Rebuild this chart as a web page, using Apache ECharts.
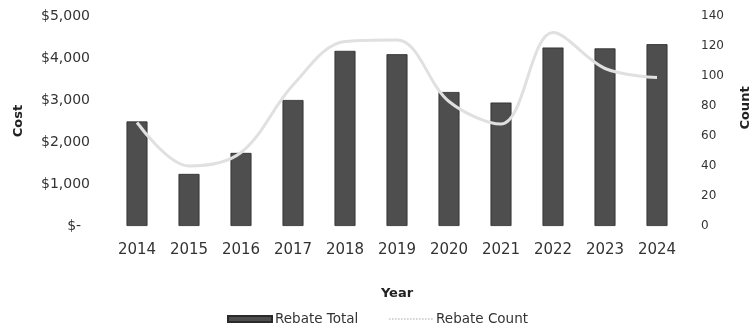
<!DOCTYPE html>
<html>
<head>
<meta charset="utf-8">
<script src="https://cdn.jsdelivr.net/npm/echarts@6/dist/echarts.min.js"></script>
<style>
  html, body { margin: 0; padding: 0; background: #fff; }
  #chart { width: 755px; height: 328px; }
</style>
</head>
<body>
<div id="chart"></div>
<script>
// Yearly rebate totals (USD) and number of rebates issued
const years = ['2014', '2015', '2016', '2017', '2018', '2019', '2020', '2021', '2022', '2023', '2024'];
const rebateTotal = [2490, 1240, 1740, 3000, 4170, 4090, 3190, 2940, 4250, 4230, 4330];
const rebateCount = [69, 40, 49, 94, 123, 124, 83, 68, 129, 105, 99];

const FONT = 'DejaVu Sans';

function costLabel(v) {
  if (v === 0) return '$-\u00a0\u00a0';
  return '$' + v.toLocaleString('en-US');
}

const chart = echarts.init(document.getElementById('chart'), null, { renderer: 'canvas' });

chart.setOption({
  animation: false,
  backgroundColor: '#ffffff',
  textStyle: { fontFamily: FONT },
  grid: { left: 111, right: 72, top: 16, bottom: 102, containLabel: false, outerBoundsMode: 'none' },
  legend: {
    top: 307,
    left: 'center',
    itemGap: 30,
    itemWidth: 44,
    itemHeight: 6,
    textStyle: { fontFamily: FONT, fontSize: 13.5, color: '#333', padding: [0, 0, 0, -2] },
    data: [
      { name: 'Rebate Total', icon: 'rect' },
      { name: 'Rebate Count', itemStyle: { opacity: 0 }, lineStyle: { color: '#c4c4c4', width: 1.5, type: 'dotted' } }
    ]
  },
  xAxis: {
    type: 'category',
    data: years,
    name: 'Year',
    nameLocation: 'middle',
    nameGap: 61,
    nameTextStyle: { fontFamily: FONT, fontSize: 13, fontWeight: 'bold', color: '#222' },
    axisLine: { show: false },
    axisTick: { show: false },
    axisLabel: { fontFamily: FONT, fontSize: 15, color: '#333', margin: 17 }
  },
  yAxis: [
    {
      type: 'value',
      min: 0,
      max: 5000,
      interval: 1000,
      name: 'Cost',
      nameLocation: 'middle',
      nameGap: 86,
      nameTextStyle: { fontFamily: FONT, fontSize: 13, fontWeight: 'bold', color: '#222' },
      axisLine: { show: false },
      axisTick: { show: false },
      splitLine: { show: false },
      axisLabel: { fontFamily: FONT, fontSize: 14, color: '#333', margin: 21, formatter: costLabel }
    },
    {
      type: 'value',
      min: 0,
      max: 140,
      interval: 20,
      name: 'Count',
      nameLocation: 'middle',
      nameGap: 56,
      nameTextStyle: { fontFamily: FONT, fontSize: 13, fontWeight: 'bold', color: '#222', padding: [0, 0, 0, 26] },
      axisLine: { show: false },
      axisTick: { show: false },
      splitLine: { show: false },
      axisLabel: { fontFamily: FONT, fontSize: 12, color: '#333', margin: 18 }
    }
  ],
  series: [
    {
      name: 'Rebate Total',
      type: 'bar',
      yAxisIndex: 0,
      data: rebateTotal,
      barWidth: 21,
      itemStyle: { color: '#4e4e4e', borderColor: '#2a2a2a', borderWidth: 0.8 }
    },
    {
      name: 'Rebate Count',
      type: 'line',
      yAxisIndex: 1,
      data: rebateCount,
      smooth: 0.35,
      symbol: 'none',
      lineStyle: { color: '#e0e0e0', width: 3 },
      itemStyle: { color: '#e0e0e0' }
    }
  ]
});
</script>
</body>
</html>
